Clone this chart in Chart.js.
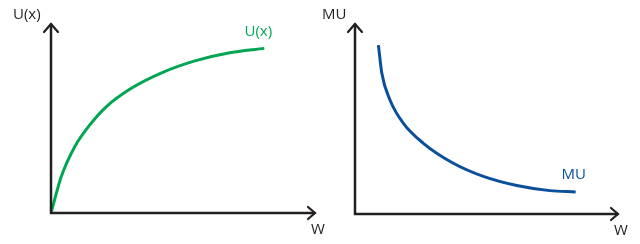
<!DOCTYPE html>
<html>
<head>
<meta charset="utf-8">
<script src="https://cdn.jsdelivr.net/npm/chart.js@4/dist/chart.umd.min.js"></script>
<style>
  body { margin: 0; background: #fff; }
  .panel { position: absolute; top: 0; height: 244px; }
</style>
</head>
<body>
<div class="panel" style="left:0;width:340px"><canvas id="utility" width="340" height="244"></canvas></div>
<div class="panel" style="left:320px;width:320px"><canvas id="marginal" width="320" height="244"></canvas></div>
<script>
// wealth (W) and utility U(x)
const uxW = [0, 0.39, 0.9, 1.47, 2.09, 3.04, 4.19, 5.45, 6.72, 8.08];
const uxVal = [0, 1.93, 3.51, 4.66, 5.62, 6.6, 7.42, 8.05, 8.47, 8.71];

// wealth (W) and marginal utility MU
const muW = [0.89, 1.02, 1.33, 1.84, 2.6, 3.74, 4.88, 6.15, 7.41, 8.39];
const muVal = [8.89, 7.41, 6.0, 4.77, 3.72, 2.67, 1.98, 1.5, 1.23, 1.16];

const axisColor = "#231f20";
const green = "#00a651";
const blue = "#0a4f9c";
const font = "15px 'Open Sans'";

// draws the two arrowed axes plus the axis titles and the curve label
const axesPlugin = {
  id: "axes",
  afterDatasetsDraw(chart, args, opts) {
    const { ctx, chartArea: a, scales } = chart;
    const ox = scales.x.getPixelForValue(0);
    const oy = scales.y.getPixelForValue(0);
    ctx.save();
    ctx.strokeStyle = axisColor;
    ctx.lineWidth = 2.5;
    ctx.lineCap = "square";
    ctx.beginPath();
    ctx.moveTo(ox, a.top + 1);
    ctx.lineTo(ox, oy);
    ctx.lineTo(a.right - 1, oy);
    ctx.stroke();
    ctx.lineCap = "round";
    ctx.lineWidth = 2.2;
    ctx.beginPath();
    ctx.moveTo(ox - 7, a.top + 8);
    ctx.lineTo(ox, a.top);
    ctx.lineTo(ox + 7, a.top + 8);
    ctx.stroke();
    ctx.beginPath();
    ctx.moveTo(a.right - 7, oy - 6);
    ctx.lineTo(a.right, oy);
    ctx.lineTo(a.right - 7, oy + 6);
    ctx.stroke();

    ctx.font = font;
    ctx.textBaseline = "middle";
    ctx.textAlign = "left";
    ctx.fillStyle = axisColor;
    ctx.fillText(opts.yTitle, opts.yTitleX, 15);
    ctx.textAlign = "center";
    ctx.fillText(opts.xTitle, a.right + 3, oy + 17);

    const pts = chart.data.datasets[0].data;
    const end = pts[pts.length - 1];
    const px = scales.x.getPixelForValue(end.x);
    const py = scales.y.getPixelForValue(end.y);
    ctx.fillStyle = opts.labelColor;
    ctx.fillText(opts.label, px + opts.labelDx, py + opts.labelDy);
    ctx.restore();
  }
};

function makeChart(id, xs, ys, color, padding, axisOpts) {
  return new Chart(document.getElementById(id), {
    type: "line",
    data: {
      datasets: [{
        data: xs.map((x, i) => ({ x: x, y: ys[i] })),
        borderColor: color,
        borderWidth: 3,
        pointRadius: 0,
        fill: false,
        cubicInterpolationMode: "monotone"
      }]
    },
    options: {
      responsive: false,
      animation: false,
      layout: { padding: padding },
      scales: {
        x: { type: "linear", min: 0, max: 10, display: false },
        y: { min: 0, max: 10, display: false }
      },
      plugins: {
        legend: { display: false },
        tooltip: { enabled: false },
        axes: axisOpts
      }
    },
    plugins: [axesPlugin]
  });
}

makeChart("utility", uxW, uxVal, green,
  { left: 51, top: 24, right: 25, bottom: 31 },
  { yTitle: "U(x)", yTitleX: 13, xTitle: "W", label: "U(x)", labelColor: green, labelDx: -6, labelDy: -17 });

makeChart("marginal", muW, muVal, blue,
  { left: 35, top: 24, right: 22, bottom: 30 },
  { yTitle: "MU", yTitleX: 2, xTitle: "W", label: "MU", labelColor: blue, labelDx: -2, labelDy: -17 });
</script>
</body>
</html>
